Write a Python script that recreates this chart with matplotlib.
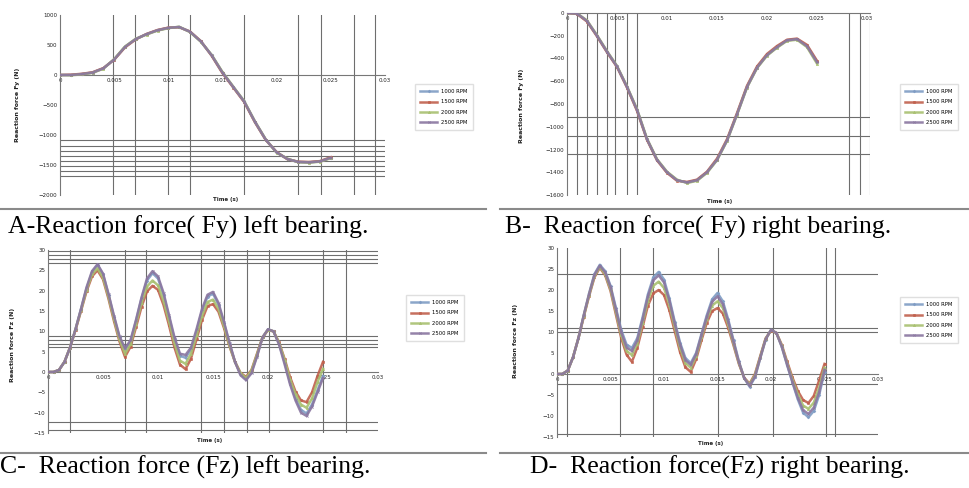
import matplotlib
matplotlib.use("Agg")
import matplotlib.pyplot as plt
from matplotlib.lines import Line2D

# time samples (s)
t_fy = [0.000, 0.001, 0.002, 0.003, 0.004, 0.005, 0.006, 0.007, 0.008, 0.009,
        0.010, 0.011, 0.012, 0.013, 0.014, 0.015, 0.016, 0.017, 0.018, 0.019,
        0.020, 0.021, 0.022, 0.023, 0.024, 0.025]
t_fz = [0.0000, 0.0005, 0.0010, 0.0015, 0.0020, 0.0025, 0.0030, 0.0035, 0.0040, 0.0045,
        0.0050, 0.0055, 0.0060, 0.0065, 0.0070, 0.0075, 0.0080, 0.0085, 0.0090, 0.0095,
        0.0100, 0.0105, 0.0110, 0.0115, 0.0120, 0.0125, 0.0130, 0.0135, 0.0140, 0.0145,
        0.0150, 0.0155, 0.0160, 0.0165, 0.0170, 0.0175, 0.0180, 0.0185, 0.0190, 0.0195,
        0.0200, 0.0205, 0.0210, 0.0215, 0.0220, 0.0225, 0.0230, 0.0235, 0.0240, 0.0245,
        0.0250]

series_names = ["1000 RPM", "1500 RPM", "2000 RPM", "2500 RPM"]

# A - Fy left bearing
fy_left_1 = [0, 0, 15, 40, 110, 260, 470, 600, 680, 745, 785, 800, 720, 560, 330, 40,
             -200, -440, -780, -1080, -1290, -1400, -1450, -1455, -1440, -1380]
fy_left_2 = [0, 5, 20, 45, 115, 255, 460, 595, 685, 750, 790, 795, 725, 565, 320, 30,
             -210, -450, -790, -1085, -1285, -1405, -1445, -1450, -1435, -1370]
fy_left_3 = [0, -5, 10, 35, 105, 265, 475, 605, 675, 740, 780, 805, 715, 555, 335, 50,
             -195, -435, -775, -1075, -1295, -1395, -1455, -1460, -1445, -1385]
fy_left_4 = [0, 0, 15, 40, 110, 258, 468, 600, 682, 746, 786, 800, 721, 560, 328, 40,
             -202, -442, -781, -1080, -1290, -1401, -1450, -1456, -1440, -1378]

# B - Fy right bearing
fy_right_1 = [0, -5, -70, -200, -340, -470, -650, -850, -1110, -1290, -1400, -1470, -1490,
              -1470, -1400, -1290, -1120, -890, -650, -480, -370, -300, -240, -230, -290, -430]
fy_right_2 = [0, -8, -75, -205, -345, -475, -655, -860, -1115, -1295, -1405, -1475, -1485,
              -1465, -1395, -1280, -1110, -880, -640, -470, -360, -290, -235, -225, -280, -420]
fy_right_3 = [0, -3, -65, -195, -335, -465, -645, -845, -1105, -1285, -1395, -1465, -1495,
              -1475, -1405, -1295, -1125, -895, -655, -485, -375, -305, -245, -235, -300, -445]
fy_right_4 = [0, -5, -70, -200, -340, -470, -650, -852, -1110, -1290, -1400, -1470, -1490,
              -1470, -1400, -1290, -1120, -890, -650, -480, -370, -300, -240, -230, -292, -432]

# C - Fz left bearing
fz_left_1 = [0, 0, 0.5, 2.5, 6, 10.5, 15.5, 20.5, 24.5, 26.3, 24, 19, 13.5, 8.5, 5.5, 7.5,
             12.5, 18, 22.5, 24.3, 23, 19, 13.5, 8, 4, 3.5, 5.5, 10, 15, 18.5, 19.3, 16.5,
             12, 7, 2.5, -0.5, -1.8, 0, 4, 8.5, 10.5, 10, 7, 2.5, -2.5, -6.5, -9.3, -10.2,
             -8, -4.5, -1]
fz_left_2 = [0, 0, 0.5, 2.5, 6, 10.3, 15, 19.8, 23.5, 25, 22.8, 18, 12.5, 7.5, 3.7, 6.2,
             11, 16, 19.8, 21.2, 20.2, 16.5, 11.5, 6, 1.8, 0.7, 3.3, 8, 12.8, 16.2, 16.7, 14.8,
             10.8, 6.3, 2.5, -0.2, -1.2, 0.5, 4.5, 8.5, 10.3, 10, 7.3, 3.3, -1.2, -4.8, -7, -7.4,
             -5, -1, 2.5]
fz_left_3 = [0, 0, 0.5, 2.5, 6, 10.5, 15.2, 20.2, 24, 25.5, 23.2, 18.5, 13, 8, 4.5, 6.8,
             11.8, 17, 21, 22.5, 21.3, 17.5, 12.5, 7, 2.8, 2, 4.5, 9, 13.8, 17.2, 17.8, 15.5,
             11.3, 6.5, 2.5, -0.3, -1.5, 0.3, 4.3, 8.5, 10.4, 10, 7.2, 3, -1.8, -5.5, -8, -8.8,
             -6.5, -2.5, 0.8]
fz_left_4 = [0, 0, 0.5, 2.5, 6, 10.5, 15.5, 20.8, 24.8, 26.5, 24.2, 19.2, 13.8, 8.8, 5.8, 7.8,
             12.8, 18.3, 23, 24.8, 23.5, 19.5, 14, 8.5, 4.5, 4.2, 6, 10.5, 15.5, 19, 19.7, 17,
             12.3, 7.2, 2.5, -0.8, -2, -0.3, 3.8, 8.5, 10.5, 10, 6.8, 2, -3, -7, -10, -10.8,
             -8.5, -5, -1.5]

# D - Fz right bearing
fz_right_1 = [0, 0, 0.8, 4, 8.5, 14, 19.2, 23.8, 26, 24.5, 21, 15.8, 10.5, 7, 6.2, 8.5,
              13.5, 19, 23, 24.3, 22.5, 18, 12.5, 7.5, 3.8, 2.6, 5, 9.5, 14, 17.8, 19.3, 17.3,
              13, 8, 3, -1, -3, -0.8, 3.8, 8.2, 10.5, 9.8, 6.5, 2.2, -2, -6, -9.2, -10.3,
              -8.8, -5, 0.5]
fz_right_2 = [0, 0, 0.8, 4, 8.5, 13.6, 18.6, 23, 25.3, 23.5, 19.8, 14.2, 8.6, 4.6, 2.9, 6.2,
              11.2, 16.3, 19.2, 20, 18.8, 15.2, 10.2, 5.2, 1.6, 0.5, 3.5, 8, 12.2, 15, 15.7, 14.4,
              11, 6.8, 2.4, -0.9, -2.3, 0, 4.3, 8.5, 10.3, 9.8, 7, 3, -0.8, -4, -6.2, -6.9,
              -5.2, -1.5, 2.4]
fz_right_3 = [0, 0, 0.8, 4, 8.5, 13.8, 18.8, 23.3, 25.5, 23.8, 20.2, 14.8, 9.3, 5.5, 4.5, 7.2,
              12.2, 17.5, 21, 22, 20.5, 16.5, 11.2, 6.2, 2.6, 1.5, 4.2, 8.7, 13, 16.3, 17.3, 15.7,
              11.8, 7.2, 2.6, -1, -2.5, -0.3, 4.1, 8.4, 10.4, 9.8, 6.8, 2.6, -1.3, -4.8, -7.5, -8.3,
              -6.8, -3.3, 1.5]
fz_right_4 = [0, 0, 0.8, 4, 8.5, 14, 19, 23.6, 25.8, 24.2, 20.7, 15.4, 10, 6.3, 5.5, 8,
              13, 18.5, 22.3, 23.5, 21.8, 17.5, 12, 7, 3.3, 2.2, 4.7, 9.2, 13.6, 17.2, 18.5, 16.6,
              12.5, 7.6, 2.8, -1, -2.8, -0.6, 3.9, 8.3, 10.5, 9.8, 6.6, 2.3, -1.8, -5.6, -8.6, -9.5,
              -8, -4.3, 1]

x_ticks = [0, 0.005, 0.01, 0.015, 0.02, 0.025, 0.03]
x_tick_labels = ["0", "0.005", "0.01", "0.015", "0.02", "0.025", "0.03"]

yticks_a = [-2000, -1500, -1000, -500, 0, 500, 1000]
yticks_b = [-1600, -1400, -1200, -1000, -800, -600, -400, -200, 0]
yticks_cd = [-15, -10, -5, 0, 5, 10, 15, 20, 25, 30]

# odd gridlines left in the original spreadsheet charts
vgrid_a = [0.0049, 0.0069, 0.0100, 0.0120, 0.0170, 0.0220, 0.0241, 0.0271, 0.0291]
hgrid_a = [-1083, -1183, -1267, -1350, -1433, -1517, -1600, -1683]
vgrid_b = [0.001, 0.002, 0.003, 0.004, 0.0048, 0.006, 0.007, 0.0282, 0.0293, 0.0303]
hgrid_b = [-912, -1080, -1240]
vgrid_c = [0.002, 0.007, 0.0089, 0.0139, 0.016, 0.0181, 0.0201, 0.025, 0.0271]
hgrid_c = [29.8, 28.8, 27.8, 26.8, 8.9, 7.9, 6.9, 6.2, -12.3, -14.3]
vgrid_d = [0.0009, 0.0059, 0.009, 0.015, 0.0202, 0.0251, 0.026]
hgrid_d = [23.8, 11, 10, -2.4, -14.3]

styles = [
    dict(color="#7f9cc4", marker="D", ms=1.4),
    dict(color="#c0604d", marker="s", ms=1.4),
    dict(color="#a8c070", marker="^", ms=1.6),
    dict(color="#8a76a0", marker="x", ms=1.6),
]

W, H = 969, 488
fig = plt.figure(figsize=(W / 100, H / 100), dpi=100)


def px_rect(left, top, right, bottom):
    return [left / W, 1 - bottom / H, (right - left) / W, (bottom - top) / H]


def draw_panel(rect, t, series, xlim, ylim, yticks, vgrid, hgrid, ylabel,
               ylab_pos, xlab_pos, leg_pos):
    ax = fig.add_axes(rect)
    handles = []
    for vals, name, st in zip(series, series_names, styles):
        h, = ax.plot(t, vals, lw=1.8, mew=0.5, label=name, zorder=3, alpha=0.9, **st)
        handles.append(h)
    for x in vgrid:
        ax.axvline(x, color="#6e6e6e", lw=0.8, zorder=1)
    for y in hgrid:
        ax.axhline(y, color="#6e6e6e", lw=0.8, zorder=1)

    ax.set_xlim(xlim)
    ax.set_ylim(ylim)
    ax.set_xticks(x_ticks)
    ax.set_xticklabels(x_tick_labels)
    ax.set_yticks(yticks)
    ax.tick_params(labelsize=4, length=0, pad=2, colors="#222222")
    for s in ["top", "right"]:
        ax.spines[s].set_visible(False)
    ax.spines["bottom"].set_position(("data", 0))
    ax.spines["left"].set_position(("data", 0))
    ax.spines["bottom"].set_color("#777777")
    ax.spines["left"].set_color("#777777")
    ax.spines["bottom"].set_linewidth(0.8)
    ax.spines["left"].set_linewidth(0.8)

    ax.text(ylab_pos[0], ylab_pos[1], ylabel, transform=ax.transAxes, rotation=90,
            ha="center", va="center", fontsize=4.5, fontweight="bold", color="#222222")
    ax.text(xlab_pos[0], xlab_pos[1], "Time (s)", transform=ax.transAxes,
            ha="center", va="top", fontsize=4, fontweight="bold", color="#222222")

    fig.legend(handles, series_names, loc="center", bbox_to_anchor=leg_pos,
               fontsize=3.8, frameon=True, edgecolor="#d8d8d8", fancybox=False,
               handlelength=3.2, borderpad=1.0, labelspacing=1.0)
    return ax


draw_panel(px_rect(60, 15, 385, 195), t_fy,
           [fy_left_1, fy_left_2, fy_left_3, fy_left_4],
           (0, 0.03), (-2000, 1000), yticks_a, vgrid_a, hgrid_a,
           "Reaction force Fy (N)", (-0.132, 0.5), (0.51, -0.01),
           (444 / W, 1 - 107 / H))

draw_panel(px_rect(567, 13, 870, 195), t_fy,
           [fy_right_1, fy_right_2, fy_right_3, fy_right_4],
           (0, 0.0303), (-1600, 0), yticks_b, vgrid_b, hgrid_b,
           "Reaction force Fy (N)", (-0.149, 0.49), (0.505, -0.02),
           (929 / W, 1 - 107 / H))

draw_panel(px_rect(48, 250, 378, 433), t_fz,
           [fz_left_1, fz_left_2, fz_left_3, fz_left_4],
           (0, 0.03), (-15, 30), yticks_cd, vgrid_c, hgrid_c,
           "Reaction force Fz (N)", (-0.109, 0.48), (0.49, -0.03),
           (435 / W, 1 - 318 / H))

draw_panel(px_rect(557, 248, 878, 437), t_fz,
           [fz_right_1, fz_right_2, fz_right_3, fz_right_4],
           (0, 0.03), (-15, 30), yticks_cd, vgrid_d, hgrid_d,
           "Reaction force Fz (N)", (-0.13, 0.51), (0.48, -0.02),
           (929 / W, 1 - 320 / H))

# separator rules under each row
for y in [209, 453]:
    fig.add_artist(Line2D([0, 486 / W], [1 - y / H] * 2, color="#8a8a8a", lw=1.5))
    fig.add_artist(Line2D([500 / W, 1], [1 - y / H] * 2, color="#8a8a8a", lw=1.5))

cap = dict(family="Liberation Serif", fontsize=18.5, va="baseline", color="black")
fig.text(8 / W, 1 - 234 / H, "A-Reaction force( Fy) left bearing.", **cap)
fig.text(505 / W, 1 - 234 / H, "B-  Reaction force( Fy) right bearing.", **cap)
fig.text(0 / W, 1 - 474 / H, "C-  Reaction force (Fz) left bearing.", **cap)
fig.text(530 / W, 1 - 474 / H, "D-  Reaction force(Fz) right bearing.", **cap)

fig.savefig("out.png", dpi=100)
